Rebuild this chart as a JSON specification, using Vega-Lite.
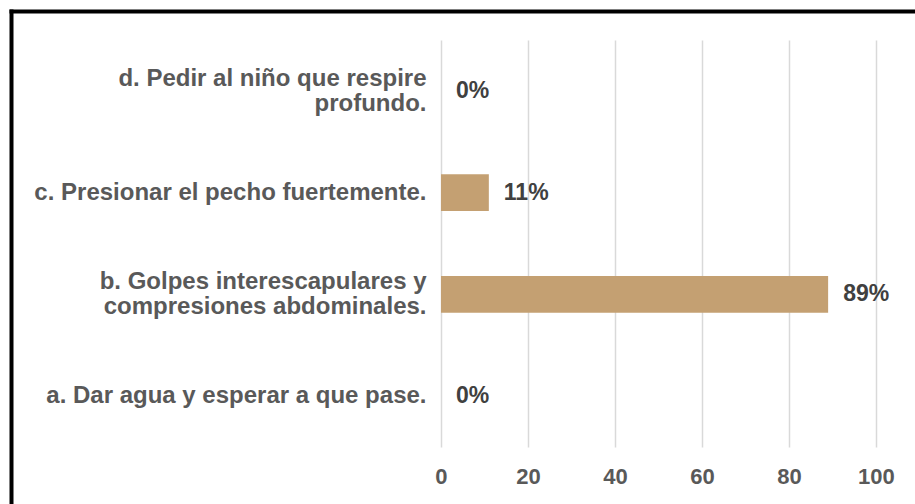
{
  "$schema": "https://vega.github.io/schema/vega-lite/v6.json",
  "autosize": {"type": "none"},
  "padding": {"left": 11, "top": 11, "right": 0, "bottom": 0},
  "width": 904,
  "height": 493,
  "background": "white",
  "config": {"view": {"stroke": null}},
  "data": {
    "values": [
      {"opcion": "a. Dar agua y esperar a que pase.", "valor": 0, "etiqueta": "0%"},
      {"opcion": "b. Golpes interescapulares y|compresiones abdominales.", "valor": 89, "etiqueta": "89%"},
      {"opcion": "c. Presionar el pecho fuertemente.", "valor": 11, "etiqueta": "11%"},
      {"opcion": "d. Pedir al niño que respire|profundo.", "valor": 0, "etiqueta": "0%"}
    ]
  },
  "layer": [
    {
      "encoding": {
        "y": {
          "field": "opcion",
          "type": "nominal",
          "sort": "descending",
          "scale": {"range": [57, 464], "paddingInner": 0.64, "paddingOuter": 0.32, "align": 0.0707},
          "axis": {
            "orient": "left",
            "title": null,
            "domain": false,
            "ticks": false,
            "grid": false,
            "labelPadding": -415,
            "labelAlign": "right",
            "labelBaseline": "middle",
            "labelLimit": 0,
            "labelOffset": {"condition": {"test": "indexof(datum.value, '|') >= 0", "value": -12}, "value": 0},
            "labelFont": "Liberation Sans",
            "labelFontWeight": "bold",
            "labelFontSize": 24,
            "labelColor": "#595959",
            "labelLineHeight": 25,
            "labelExpr": "split(datum.label, '|')"
          }
        },
        "x": {
          "field": "valor",
          "type": "quantitative",
          "scale": {"domain": [-98.85, 108.97], "nice": false, "zero": false},
          "axis": {
            "orient": "bottom",
            "title": null,
            "values": [0, 20, 40, 60, 80, 100],
            "domain": false,
            "ticks": false,
            "grid": true,
            "gridColor": "#d9d9d9",
            "gridWidth": 1.5,
            "labelPadding": -28,
            "labelBaseline": "middle",
            "labelFont": "Liberation Sans",
            "labelFontWeight": "bold",
            "labelFontSize": 22,
            "labelColor": "#595959"
          }
        }
      },
      "layer": [
        {"mark": {"type": "bar", "color": "#c4a072"}},
        {
          "mark": {"type": "text", "align": "left", "baseline": "middle", "dx": 15, "font": "Liberation Sans", "fontWeight": "bold", "fontSize": 23, "color": "#404040"},
          "encoding": {"text": {"field": "etiqueta"}}
        }
      ]
    },
    {
      "mark": {"type": "point", "opacity": 0},
      "encoding": {
        "x": {
          "field": "valor",
          "type": "quantitative",
          "axis": {"orient": "top", "title": null, "labels": false, "ticks": false, "grid": false, "domain": true, "domainColor": "black", "domainWidth": 4, "domainCap": "square"}
        },
        "y": {
          "field": "valor",
          "type": "quantitative",
          "axis": {"orient": "left", "title": null, "labels": false, "ticks": false, "grid": false, "domain": true, "domainColor": "black", "domainWidth": 4, "domainCap": "square"}
        }
      }
    }
  ],
  "resolve": {
    "scale": {"y": "independent"},
    "axis": {"x": "independent", "y": "independent"}
  }
}
